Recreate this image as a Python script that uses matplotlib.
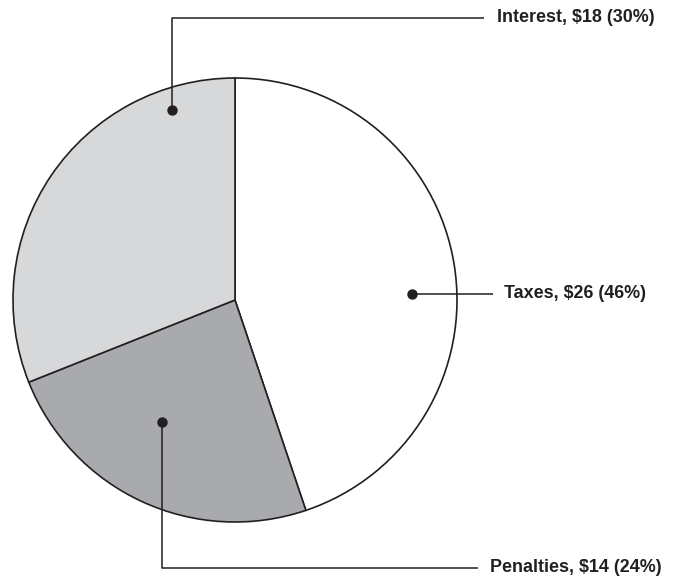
import matplotlib
matplotlib.use("Agg")
import matplotlib.pyplot as plt

categories = ["Taxes", "Penalties", "Interest"]
values = [26, 14, 18]
percents = [46, 24, 30]
colors = ["#ffffff", "#a9aaad", "#d7d8da"]

W, H = 683, 577
fig = plt.figure(figsize=(W / 100, H / 100), dpi=100)
ax = fig.add_axes([0, 0, 1, 1])
ax.set_xlim(0, W)
ax.set_ylim(0, H)
ax.set_aspect("equal")
ax.axis("off")

cx, cy, R = 235, H - 300, 222
ax.pie(values, colors=colors, startangle=90, counterclock=False,
       center=(cx, cy), radius=R, frame=True,
       wedgeprops=dict(edgecolor="#231f20", linewidth=1.2))
ax.set_xlim(0, W)
ax.set_ylim(0, H)
ax.axis("off")

ink = "#231f20"
font = dict(family=["Liberation Sans", "DejaVu Sans"], fontweight="bold",
            fontsize=12.9, color=ink, va="center", ha="left")

# leader layouts: (dot, path points, text position)
layouts = {
    "Taxes": ([(412, 294), (493, 294)], (504, 294)),
    "Interest": ([(172, 110), (172, 17.5), (484, 17.5)], (497, 17.5)),
    "Penalties": ([(162, 422), (162, 568), (478, 568)], (490, 568)),
}
for cat, val, pct in zip(categories, values, percents):
    pts, tpos = layouts[cat]
    xs = [p[0] for p in pts]
    ys = [H - p[1] for p in pts]
    ax.plot(xs, ys, color=ink, lw=1.1, solid_capstyle="butt")
    ax.plot([xs[0]], [ys[0]], "o", color=ink, markersize=6.5)
    ax.text(tpos[0], H - tpos[1], f"{cat}, ${val} ({pct}%)", **font)

fig.savefig("out.png", dpi=100, facecolor="white")
